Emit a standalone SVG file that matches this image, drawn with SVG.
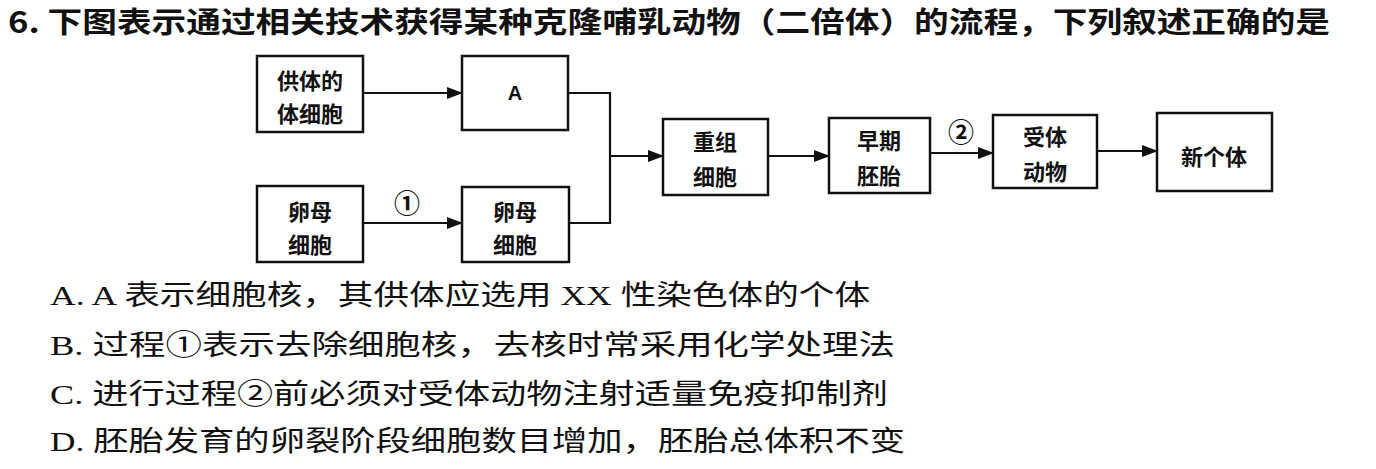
<svg xmlns="http://www.w3.org/2000/svg" width="1376" height="469" viewBox="0 0 1376 469">
<defs>
<style>
.box{fill:#fff;stroke:#111;stroke-width:2.5}
.bt{font-family:"Noto Sans CJK SC","Noto Sans",sans-serif;font-size:22px;font-weight:bold;fill:#111;text-anchor:middle;dominant-baseline:central}
.ln{fill:none;stroke:#111;stroke-width:2.2}
.title{font-family:"Noto Sans CJK SC","Noto Sans",sans-serif;font-size:29px;font-weight:bold;fill:#111}
.opt{font-family:"Liberation Serif","Noto Sans CJK SC",serif;font-size:28px;fill:#111}
.num{font-family:"Noto Sans CJK SC","DejaVu Sans",sans-serif;font-size:26px;font-weight:bold;fill:#111;text-anchor:middle;dominant-baseline:central}
</style>
<marker id="ah" markerWidth="16" markerHeight="12" refX="15" refY="6" orient="auto" markerUnits="userSpaceOnUse">
<path d="M0,0 L16,6 L0,12 Z" fill="#111"/>
</marker>
</defs>
<rect width="1376" height="469" fill="#fff"/>
<text class="title" x="8" y="33" textLength="1322" lengthAdjust="spacingAndGlyphs">6. 下图表示通过相关技术获得某种克隆哺乳动物（二倍体）的流程，下列叙述正确的是</text>

<g id="connectors">
<line class="ln" x1="363" y1="93" x2="462" y2="93" marker-end="url(#ah)"/>
<line class="ln" x1="363" y1="223" x2="462" y2="223" marker-end="url(#ah)"/>
<polyline class="ln" points="568,93 610,93 610,223 569,223"/>
<line class="ln" x1="610" y1="156" x2="663" y2="156" marker-end="url(#ah)"/>
<line class="ln" x1="768" y1="156" x2="829" y2="156" marker-end="url(#ah)"/>
<line class="ln" x1="930" y1="153" x2="993" y2="153" marker-end="url(#ah)"/>
<line class="ln" x1="1097" y1="151" x2="1157" y2="151" marker-end="url(#ah)"/>
<text class="num" x="407" y="201">①</text>
<text class="num" x="961" y="130">②</text>
</g>

<g id="n1"><rect class="box" x="257" y="56" width="106" height="76"/><text class="bt" x="310" y="79">供体的</text><text class="bt" x="310" y="112">体细胞</text></g>
<g id="nA"><rect class="box" x="462" y="56" width="106" height="74"/><text class="bt" x="515" y="93" style="font-family:'Liberation Sans',sans-serif;font-size:20px">A</text></g>
<g id="n3"><rect class="box" x="257" y="186" width="106" height="76"/><text class="bt" x="310" y="210">卵母</text><text class="bt" x="310" y="243">细胞</text></g>
<g id="n4"><rect class="box" x="462" y="187" width="107" height="75"/><text class="bt" x="515" y="210">卵母</text><text class="bt" x="515" y="243">细胞</text></g>
<g id="n5"><rect class="box" x="663" y="119" width="105" height="76"/><text class="bt" x="715" y="140">重组</text><text class="bt" x="715" y="175">细胞</text></g>
<g id="n6"><rect class="box" x="829" y="118" width="101" height="75"/><text class="bt" x="879" y="139">早期</text><text class="bt" x="879" y="174">胚胎</text></g>
<g id="n7"><rect class="box" x="993" y="115" width="104" height="73"/><text class="bt" x="1045" y="135">受体</text><text class="bt" x="1045" y="170">动物</text></g>
<g id="n8"><rect class="box" x="1157" y="113" width="115" height="78"/><text class="bt" x="1214" y="155">新个体</text></g>

<text class="opt" x="50" y="305" textLength="820" lengthAdjust="spacingAndGlyphs">A. A 表示细胞核，其供体应选用 XX 性染色体的个体</text>
<text class="opt" x="50" y="355" textLength="845" lengthAdjust="spacingAndGlyphs">B. 过程①表示去除细胞核，去核时常采用化学处理法</text>
<text class="opt" x="50" y="404" textLength="838" lengthAdjust="spacingAndGlyphs">C. 进行过程②前必须对受体动物注射适量免疫抑制剂</text>
<text class="opt" x="50" y="451" textLength="855" lengthAdjust="spacingAndGlyphs">D. 胚胎发育的卵裂阶段细胞数目增加，胚胎总体积不变</text>
</svg>
